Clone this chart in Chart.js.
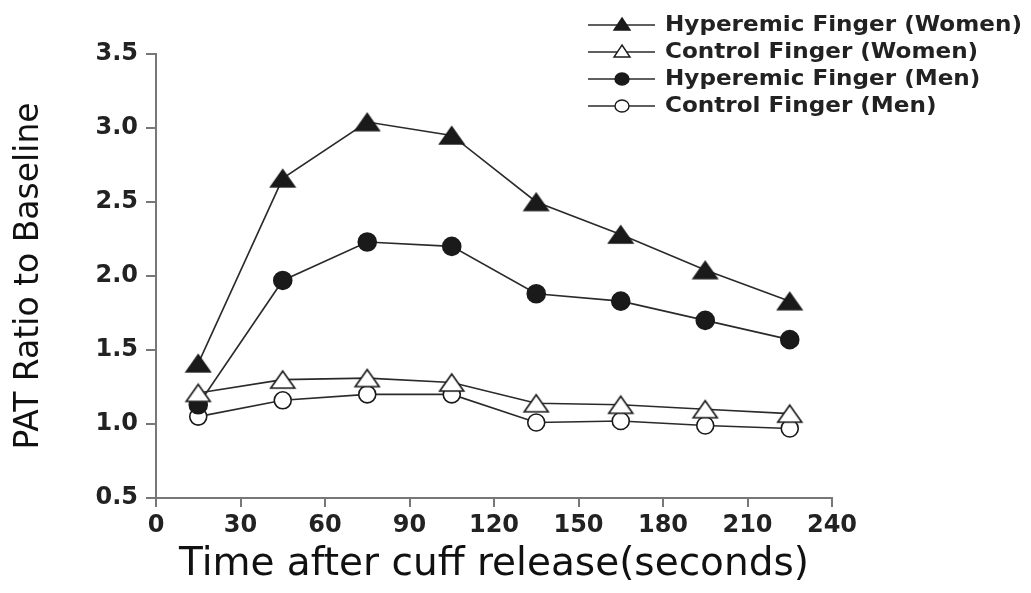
<!DOCTYPE html>
<html>
<head>
<meta charset="utf-8">
<script src="https://cdn.jsdelivr.net/npm/chart.js@4.4.1/dist/chart.umd.min.js"></script>
<style>
  html, body { margin: 0; padding: 0; background: #fff; }
  #wrap { width: 1031px; height: 593px; }
</style>
</head>
<body>
<div id="wrap"><canvas id="pat" width="1031" height="593"></canvas></div>
<script>
// time points (seconds after cuff release)
const timeSec = [15, 45, 75, 105, 135, 165, 195, 225];

// PAT ratio to baseline per group
const hyperWomen   = [1.41, 2.66, 3.04, 2.95, 2.50, 2.28, 2.04, 1.83];
const controlWomen = [1.21, 1.30, 1.31, 1.28, 1.14, 1.13, 1.10, 1.07];
const hyperMen     = [1.13, 1.97, 2.23, 2.20, 1.88, 1.83, 1.70, 1.57];
const controlMen   = [1.05, 1.16, 1.20, 1.20, 1.01, 1.02, 0.99, 0.97];

const seriesNames = [
  "Hyperemic Finger (Women)",
  "Control Finger (Women)",
  "Hyperemic Finger (Men)",
  "Control Finger (Men)"
];

const xTicks = [0, 30, 60, 90, 120, 150, 180, 210, 240];
const yTicks = [0.5, 1.0, 1.5, 2.0, 2.5, 3.0, 3.5];

const INK = "#1a1a1a";
const AXIS = "#777";

// wide triangle marker, drawn once into a small canvas
function triangleMarker(w, h, filled) {
  const c = document.createElement("canvas");
  c.width = w + 4; c.height = h + 4;
  const g = c.getContext("2d");
  g.beginPath();
  g.moveTo(c.width / 2, 2);
  g.lineTo(w + 2, h + 2);
  g.lineTo(2, h + 2);
  g.closePath();
  g.fillStyle = filled ? INK : "#fff";
  g.fill();
  g.lineWidth = 1.6;
  g.strokeStyle = INK;
  g.stroke();
  return c;
}

const markers = [
  { style: triangleMarker(24, 17, true), fill: INK, r: 10 },
  { style: triangleMarker(24, 17, false), fill: "#fff", r: 10 },
  { style: "circle", fill: INK, r: 9 },
  { style: "circle", fill: "#fff", r: 8.5 }
];

const seriesValues = [hyperWomen, controlWomen, hyperMen, controlMen];

const datasets = seriesValues.map((vals, i) => ({
  label: seriesNames[i],
  data: vals.map((v, j) => ({ x: timeSec[j], y: v })),
  borderColor: "#2a2a2a",
  borderWidth: 1.6,
  pointStyle: markers[i].style,
  pointRadius: markers[i].r,
  pointHoverRadius: markers[i].r,
  pointBackgroundColor: markers[i].fill,
  pointBorderColor: INK,
  pointBorderWidth: 1.6,
  tension: 0
}));

// legend in the top right corner: line - marker - line, then the name
const legendPlugin = {
  id: "cornerLegend",
  afterDraw(chart) {
    const ctx = chart.ctx;
    ctx.save();
    chart.data.datasets.forEach((ds, i) => {
      const y = 25 + i * 27;
      ctx.strokeStyle = "#2a2a2a";
      ctx.lineWidth = 1.6;
      ctx.beginPath();
      ctx.moveTo(588, y);
      ctx.lineTo(655, y);
      ctx.stroke();

      ctx.beginPath();
      if (i < 2) {
        ctx.moveTo(622, y - 7);
        ctx.lineTo(630, y + 5);
        ctx.lineTo(614, y + 5);
        ctx.closePath();
      } else {
        ctx.ellipse(622, y, 7, 6, 0, 0, Math.PI * 2);
      }
      ctx.fillStyle = i % 2 === 0 ? INK : "#fff";
      ctx.fill();
      ctx.lineWidth = 1.4;
      ctx.strokeStyle = INK;
      ctx.stroke();

      ctx.save();
      ctx.translate(665, y);
      ctx.scale(1.1, 1);
      ctx.font = "bold 21px 'DejaVu Sans'";
      ctx.fillStyle = "#222";
      ctx.textBaseline = "middle";
      ctx.fillText(ds.label, 0, 1);
      ctx.restore();
    });
    ctx.restore();
  }
};

new Chart(document.getElementById("pat"), {
  type: "line",
  data: { datasets },
  options: {
    responsive: false,
    animation: false,
    devicePixelRatio: 1,
    layout: { padding: { top: 54, right: 199, left: 0, bottom: 0 } },
    plugins: {
      legend: { display: false },
      tooltip: { enabled: false }
    },
    scales: {
      x: {
        type: "linear",
        min: 0,
        max: 240,
        afterBuildTicks: s => { s.ticks = xTicks.map(v => ({ value: v })); },
        afterFit: s => { s.height = 95; },
        grid: {
          drawOnChartArea: false,
          drawTicks: true,
          tickLength: 9,
          color: AXIS,
          lineWidth: 2
        },
        border: { color: AXIS, width: 2 },
        ticks: {
          color: "#222",
          padding: 4,
          maxRotation: 0,
          font: { family: "'DejaVu Sans'", size: 24, weight: "bold" }
        },
        title: {
          display: true,
          text: "Time after cuff release(seconds)",
          color: "#111",
          padding: { top: 0, bottom: 5 },
          font: { family: "'DejaVu Sans'", size: 39 }
        }
      },
      y: {
        min: 0.5,
        max: 3.5,
        afterBuildTicks: s => { s.ticks = yTicks.map(v => ({ value: v })); },
        afterFit: s => { s.width = 156; },
        grid: {
          drawOnChartArea: false,
          drawTicks: true,
          tickLength: 10,
          color: AXIS,
          lineWidth: 2
        },
        border: { color: AXIS, width: 2 },
        ticks: {
          color: "#222",
          padding: 8,
          callback: v => v.toFixed(1),
          font: { family: "'DejaVu Sans'", size: 24, weight: "bold" }
        },
        title: {
          display: true,
          text: "PAT Ratio to Baseline",
          color: "#111",
          padding: { top: 10, bottom: 0 },
          font: { family: "'DejaVu Sans'", size: 33 }
        }
      }
    }
  },
  plugins: [legendPlugin]
});
</script>
</body>
</html>
